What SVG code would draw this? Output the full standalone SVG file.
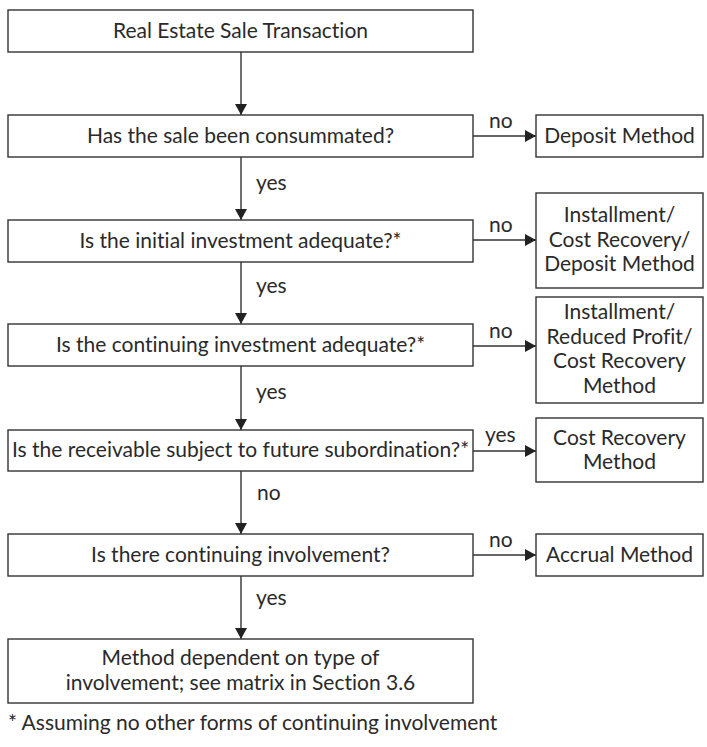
<svg xmlns="http://www.w3.org/2000/svg" width="707" height="747" viewBox="0 0 707 747">
<defs>
<marker id="ah" viewBox="0 0 11 12" refX="11" refY="6" markerWidth="11" markerHeight="12" markerUnits="userSpaceOnUse" orient="auto">
<path d="M0,0 L11,6 L0,12 Z" fill="#222"/>
</marker>
<style>
.box{fill:#fff;stroke:#333;stroke-width:1.4}
.t{font-family:Lato,"Liberation Sans",sans-serif;font-size:21px;fill:#2a2a2a;text-anchor:middle;font-variant-ligatures:none}
.l{font-family:Lato,"Liberation Sans",sans-serif;font-size:21px;fill:#2a2a2a;font-variant-ligatures:none}
.c{stroke:#333;stroke-width:1.4;fill:none;marker-end:url(#ah)}
</style>
</defs>
<rect width="707" height="747" fill="#fff"/>
<g id="connectors">
<line class="c" x1="241" y1="52" x2="241" y2="115"/>
<line class="c" x1="241" y1="157" x2="241" y2="220"/>
<line class="c" x1="241" y1="262" x2="241" y2="324"/>
<line class="c" x1="241" y1="366" x2="241" y2="430"/>
<line class="c" x1="241" y1="471" x2="241" y2="534"/>
<line class="c" x1="241" y1="576" x2="241" y2="639"/>
<line class="c" x1="473" y1="136" x2="536" y2="136"/>
<line class="c" x1="473" y1="240" x2="536" y2="240"/>
<line class="c" x1="473" y1="346" x2="536" y2="346"/>
<line class="c" x1="473" y1="451" x2="536" y2="451"/>
<line class="c" x1="473" y1="555" x2="536" y2="555"/>
<text class="l" x="256" y="190">yes</text>
<text class="l" x="256" y="293">yes</text>
<text class="l" x="256" y="399">yes</text>
<text class="l" x="257" y="500">no</text>
<text class="l" x="256" y="605">yes</text>
<text class="l" x="489" y="128">no</text>
<text class="l" x="489" y="232">no</text>
<text class="l" x="489" y="338">no</text>
<text class="l" x="485" y="442">yes</text>
<text class="l" x="489" y="547">no</text>
</g>
<g id="n1"><rect class="box" x="8" y="10" width="465" height="42"/><text class="t" x="240.5" y="38">Real Estate Sale Transaction</text></g>
<g id="n2"><rect class="box" x="8" y="115" width="465" height="42"/><text class="t" x="240.5" y="143">Has the sale been consummated?</text></g>
<g id="n3"><rect class="box" x="8" y="220" width="465" height="42"/><text class="t" x="240.5" y="248">Is the initial investment adequate?*</text></g>
<g id="n4"><rect class="box" x="8" y="324" width="465" height="42"/><text class="t" x="240.5" y="352">Is the continuing investment adequate?*</text></g>
<g id="n5"><rect class="box" x="8" y="430" width="465" height="41"/><text class="t" x="240.5" y="457">Is the receivable subject to future subordination?*</text></g>
<g id="n6"><rect class="box" x="8" y="534" width="465" height="42"/><text class="t" x="240.5" y="562">Is there continuing involvement?</text></g>
<g id="n7"><rect class="box" x="8" y="639" width="465" height="64"/><text class="t" x="240.5" y="665">Method dependent on type of</text><text class="t" x="240.5" y="690">involvement; see matrix in Section 3.6</text></g>
<g id="r1"><rect class="box" x="536" y="115" width="167" height="42"/><text class="t" x="619.5" y="143">Deposit Method</text></g>
<g id="r2"><rect class="box" x="536" y="193" width="167" height="95"/><text class="t" x="619.5" y="222">Installment/</text><text class="t" x="619.5" y="247">Cost Recovery/</text><text class="t" x="619.5" y="271">Deposit Method</text></g>
<g id="r3"><rect class="box" x="536" y="297" width="167" height="106"/><text class="t" x="619.5" y="319">Installment/</text><text class="t" x="619.5" y="344">Reduced Profit/</text><text class="t" x="619.5" y="368">Cost Recovery</text><text class="t" x="619.5" y="393">Method</text></g>
<g id="r4"><rect class="box" x="536" y="418" width="167" height="64"/><text class="t" x="619.5" y="445">Cost Recovery</text><text class="t" x="619.5" y="469">Method</text></g>
<g id="r5"><rect class="box" x="536" y="534" width="167" height="42"/><text class="t" x="619.5" y="562">Accrual Method</text></g>
<text class="l" x="8" y="730">* Assuming no other forms of continuing involvement</text>
</svg>
